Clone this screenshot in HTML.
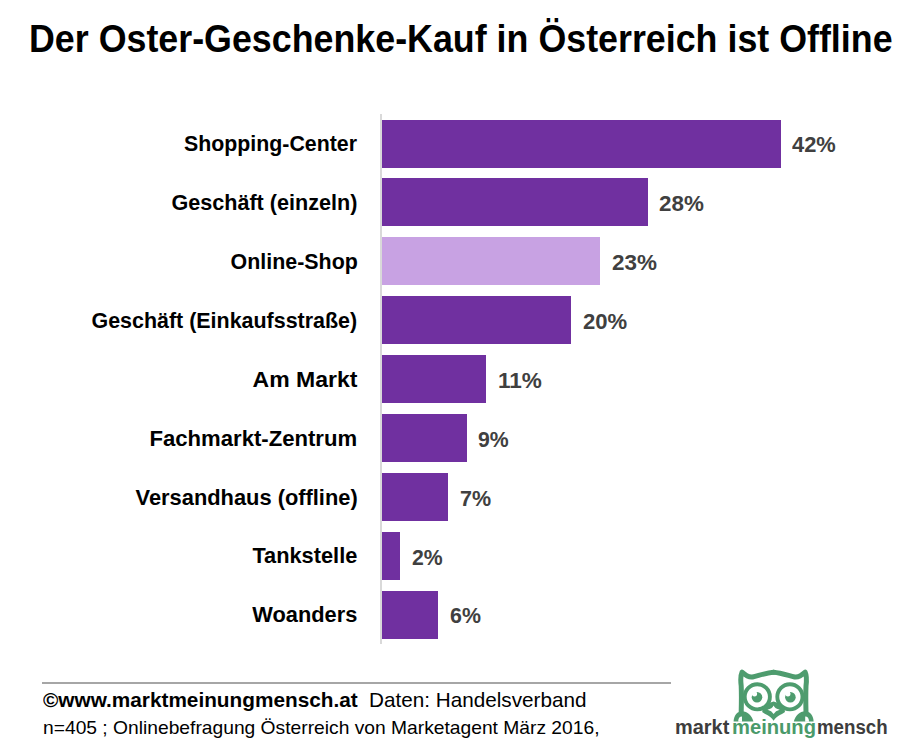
<!DOCTYPE html>
<html><head><meta charset="utf-8"><style>
html,body{margin:0;padding:0;background:#fff;width:924px;height:753px;overflow:hidden;position:relative}
.t{position:absolute;white-space:nowrap;font-family:"Liberation Sans",sans-serif}
.bar{position:absolute}
.axis{position:absolute;left:380px;top:114px;width:2px;height:530px;background:#d9d9d9}
.hr{position:absolute;left:42px;top:682px;width:629px;height:2px;background:#a6a6a6}
</style></head><body>
<div class="axis"></div>
<div class="bar" style="left:382px;top:120.00px;width:399px;height:48px;background:#7030a0"></div>
<div class="bar" style="left:382px;top:178.00px;width:266px;height:48px;background:#7030a0"></div>
<div class="bar" style="left:382px;top:237.00px;width:218px;height:48px;background:#c8a2e3"></div>
<div class="bar" style="left:382px;top:296.00px;width:189px;height:48px;background:#7030a0"></div>
<div class="bar" style="left:382px;top:355.00px;width:104px;height:48px;background:#7030a0"></div>
<div class="bar" style="left:382px;top:414.00px;width:85px;height:48px;background:#7030a0"></div>
<div class="bar" style="left:382px;top:473.00px;width:66px;height:48px;background:#7030a0"></div>
<div class="bar" style="left:382px;top:532.00px;width:18px;height:48px;background:#7030a0"></div>
<div class="bar" style="left:382px;top:591.00px;width:56px;height:48px;background:#7030a0"></div>
<div class="t" style="left:28.81px;transform-origin:0 50%;top:19.61px;font-size:38.5px;line-height:38.5px;font-weight:700;color:#000;transform:scaleX(0.9300);">Der Oster-Geschenke-Kauf in Österreich ist Offline</div>
<div class="t" style="right:566.50px;transform-origin:100% 50%;top:132.18px;font-size:22.7px;line-height:22.7px;font-weight:700;color:#000;transform:scaleX(0.9402);">Shopping-Center</div>
<div class="t" style="left:792.40px;transform-origin:0 50%;top:132.98px;font-size:22.7px;line-height:22.7px;font-weight:700;color:#404040;transform:scaleX(0.9628);">42%</div>
<div class="t" style="right:566.50px;transform-origin:100% 50%;top:191.18px;font-size:22.7px;line-height:22.7px;font-weight:700;color:#000;transform:scaleX(0.9519);">Geschäft (einzeln)</div>
<div class="t" style="left:658.50px;transform-origin:0 50%;top:191.98px;font-size:22.7px;line-height:22.7px;font-weight:700;color:#404040;transform:scaleX(0.9863);">28%</div>
<div class="t" style="right:566.50px;transform-origin:100% 50%;top:250.18px;font-size:22.7px;line-height:22.7px;font-weight:700;color:#000;transform:scaleX(0.9436);">Online-Shop</div>
<div class="t" style="left:611.90px;transform-origin:0 50%;top:250.98px;font-size:22.7px;line-height:22.7px;font-weight:700;color:#404040;transform:scaleX(0.9896);">23%</div>
<div class="t" style="right:566.50px;transform-origin:100% 50%;top:309.18px;font-size:22.7px;line-height:22.7px;font-weight:700;color:#000;transform:scaleX(0.9450);">Geschäft (Einkaufsstraße)</div>
<div class="t" style="left:582.60px;transform-origin:0 50%;top:309.98px;font-size:22.7px;line-height:22.7px;font-weight:700;color:#404040;transform:scaleX(0.9729);">20%</div>
<div class="t" style="right:566.50px;transform-origin:100% 50%;top:368.18px;font-size:22.7px;line-height:22.7px;font-weight:700;color:#000;transform:scaleX(1.0144);">Am Markt</div>
<div class="t" style="left:497.90px;transform-origin:0 50%;top:368.98px;font-size:22.7px;line-height:22.7px;font-weight:700;color:#404040;transform:scaleX(0.9943);">11%</div>
<div class="t" style="right:566.50px;transform-origin:100% 50%;top:427.18px;font-size:22.7px;line-height:22.7px;font-weight:700;color:#000;transform:scaleX(0.9742);">Fachmarkt-Zentrum</div>
<div class="t" style="left:478.00px;transform-origin:0 50%;top:427.98px;font-size:22.7px;line-height:22.7px;font-weight:700;color:#404040;transform:scaleX(0.9351);">9%</div>
<div class="t" style="right:566.50px;transform-origin:100% 50%;top:486.18px;font-size:22.7px;line-height:22.7px;font-weight:700;color:#000;transform:scaleX(0.9627);">Versandhaus (offline)</div>
<div class="t" style="left:459.50px;transform-origin:0 50%;top:486.98px;font-size:22.7px;line-height:22.7px;font-weight:700;color:#404040;transform:scaleX(0.9473);">7%</div>
<div class="t" style="right:566.50px;transform-origin:100% 50%;top:544.18px;font-size:22.7px;line-height:22.7px;font-weight:700;color:#000;transform:scaleX(0.9596);">Tankstelle</div>
<div class="t" style="left:412.40px;transform-origin:0 50%;top:545.98px;font-size:22.7px;line-height:22.7px;font-weight:700;color:#404040;transform:scaleX(0.9360);">2%</div>
<div class="t" style="right:566.50px;transform-origin:100% 50%;top:603.08px;font-size:22.7px;line-height:22.7px;font-weight:700;color:#000;transform:scaleX(0.9607);">Woanders</div>
<div class="t" style="left:449.70px;transform-origin:0 50%;top:604.38px;font-size:22.7px;line-height:22.7px;font-weight:700;color:#404040;transform:scaleX(0.9416);">6%</div>
<div class="t" style="left:42.80px;transform-origin:0 50%;top:689.99px;font-size:20.8px;line-height:20.8px;font-weight:700;color:#000;transform:scaleX(0.9990);">©www.marktmeinungmensch.at</div>
<div class="t" style="left:369.00px;transform-origin:0 50%;top:689.99px;font-size:20.8px;line-height:20.8px;font-weight:400;color:#000;transform:scaleX(0.9954);">Daten: Handelsverband</div>
<div class="t" style="left:42.80px;transform-origin:0 50%;top:718.59px;font-size:18.2px;line-height:18.2px;font-weight:400;color:#000;transform:scaleX(1.0575);">n=405 ; Onlinebefragung Österreich von Marketagent März 2016,</div>
<div class="t" style="left:675.49px;transform-origin:0 50%;top:717.47px;font-size:20px;line-height:20px;font-weight:700;color:#3d3d3d;transform:scaleX(0.9965);">markt</div>
<div class="t" style="left:731.95px;transform-origin:0 50%;top:717.47px;font-size:20px;line-height:20px;font-weight:700;color:#4a9a6a;transform:scaleX(1.0077);">meinung</div>
<div class="t" style="left:817.04px;transform-origin:0 50%;top:717.47px;font-size:20px;line-height:20px;font-weight:700;color:#3d3d3d;transform:scaleX(0.9348);">mensch</div>
<div class="hr"></div>
<svg style="position:absolute;left:0;top:0" width="924" height="753" viewBox="0 0 924 753">
<g fill="#4e9c6e">
<path d="M773.6,672.3 C766,673 759,675.5 752.5,677 C749,677.6 746.5,676.3 742,672.2 C740.2,676 740.6,681 741.2,686 C741.6,695 741.4,704 741.2,712" fill="none" stroke="#4e9c6e" stroke-width="5" stroke-linejoin="round" stroke-linecap="round"/>
<circle cx="757.3" cy="696.8" r="12.6" fill="none" stroke="#4e9c6e" stroke-width="3.9"/>
<path d="M733.6,721.6 C733.8,715 737.5,711.3 742,711.3 C747.5,711.3 752,716 753.4,721.6 Z"/>
<path d="M738.2,721.8 C738.2,718.5 739.5,716.6 742,716.6 L742,721.8 Z" fill="#fff"/>
</g>
<g fill="#4e9c6e" transform="translate(1547.2,0) scale(-1,1)">
<path d="M773.6,672.3 C766,673 759,675.5 752.5,677 C749,677.6 746.5,676.3 742,672.2 C740.2,676 740.6,681 741.2,686 C741.6,695 741.4,704 741.2,712" fill="none" stroke="#4e9c6e" stroke-width="5" stroke-linejoin="round" stroke-linecap="round"/>
<circle cx="757.3" cy="696.8" r="12.6" fill="none" stroke="#4e9c6e" stroke-width="3.9"/>
<path d="M733.6,721.6 C733.8,715 737.5,711.3 742,711.3 C747.5,711.3 752,716 753.4,721.6 Z"/>
<path d="M738.2,721.8 C738.2,718.5 739.5,716.6 742,716.6 L742,721.8 Z" fill="#fff"/>
</g>
<path d="M773.6,701.5 L769,703 L766,705.5 C763.5,708 761.5,710.5 762.5,712.3 C764,714 770,715 773.6,720.8 C777.2,715 783.2,714 784.7,712.3 C785.7,710.5 783.7,708 781.2,705.5 L778.2,703 Z" fill="#4e9c6e"/>
<path d="M773.6,705.6 Q775,708.8 779.7,709.8 Q775.5,710.8 773.6,713.9 Q771.7,710.8 767.5,709.8 Q772.2,708.8 773.6,705.6 Z" fill="#fff"/>
<circle cx="757" cy="697.2" r="5.3" fill="#4e9c6e"/>
<circle cx="754.5" cy="693.8" r="2.6" fill="#fff"/>
<circle cx="790.4" cy="697.2" r="5.3" fill="#4e9c6e"/>
<circle cx="787.9" cy="693.8" r="2.6" fill="#fff"/>
</svg>

</body></html>
